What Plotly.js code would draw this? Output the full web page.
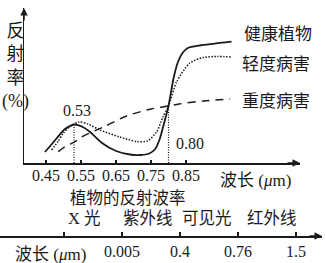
<!DOCTYPE html>
<html>
<head>
<meta charset="utf-8">
<script src="https://cdn.plot.ly/plotly-3.0.1.min.js"></script>
<style>html,body{margin:0;padding:0;background:#fff;}#chart{width:326px;height:263px;}</style>
</head>
<body>
<div id="chart"></div>
<script>
// ---- data (y is reflectance in arbitrary units) ----
const healthyX = [0.447, 0.467, 0.481, 0.504, 0.53, 0.555, 0.576, 0.61, 0.65, 0.69, 0.72, 0.745, 0.762, 0.775, 0.786, 0.80, 0.814, 0.827, 0.84, 0.855, 0.89, 0.98];
const healthyY = [11, 19, 25, 34, 38.5, 36, 31, 20, 12, 8.5, 8, 9.5, 14, 24, 38, 57, 84, 101, 110, 115, 117.5, 121.3];
const mildX = [0.466, 0.485, 0.50, 0.52, 0.545, 0.57, 0.604, 0.661, 0.709, 0.74, 0.766, 0.784, 0.80, 0.823, 0.861, 0.899, 0.94, 0.98];
const mildY = [13, 22, 30, 37, 41, 39, 33, 26, 21.5, 22, 31, 46, 57, 81, 100, 105.5, 106.5, 106];
const severeX = [0.485, 0.504, 0.533, 0.552, 0.62, 0.68, 0.75, 0.80, 0.83, 0.9, 0.976];
const severeY = [11.3, 16.3, 21.3, 26, 37, 47, 54, 57, 59, 62, 64];
const seriesNames = ['健康植物', '轻度病害', '重度病害'];
const markX = [0.53, 0.80];
const markLabels = ['0.53', '0.80'];
const xTicks = [0.45, 0.55, 0.65, 0.75, 0.85];
const xTickText = ['0.45', '0.55', '0.65', '0.75', '0.85'];
// electromagnetic spectrum strip
const bandNames = ['X 光', '紫外线', '可见光', '红外线'];
const bandTickVals = [0, 1, 2, 3, 4];
const bandTickText = ['', '0.005', '0.4', '0.76', '1.5'];

// ---- layout helpers ----
const W = 326, H = 263;
const px = v => v / W;
const py = v => 1 - v / H;
const CJK = 'Noto Sans CJK SC';
const SERIF = 'Liberation Serif, Noto Sans CJK SC';
const ink = '#1a1a1a';

function valAt(xs, ys, x) { return ys[xs.indexOf(x)]; }
const markY = [valAt(healthyX, healthyY, markX[0]), valAt(healthyX, healthyY, markX[1])];

const traces = [
  {x: healthyX, y: healthyY, mode: 'lines', line: {color: ink, width: 1.8, shape: 'spline', smoothing: 0.6}, name: seriesNames[0]},
  {x: mildX, y: mildY, mode: 'lines', line: {color: ink, width: 1.5, shape: 'spline', smoothing: 0.7, dash: '1.5px,1.5px'}, name: seriesNames[1]},
  {x: severeX, y: severeY, mode: 'lines', line: {color: ink, width: 1.5, shape: 'spline', smoothing: 0.8, dash: '8px,6px'}, name: seriesNames[2]},
  {x: [markX[0], markX[0]], y: [0, markY[0]], mode: 'lines', line: {color: ink, width: 1.2, dash: '1px,1.5px'}},
  {x: [markX[1], markX[1]], y: [0, markY[1]], mode: 'lines', line: {color: ink, width: 1.2, dash: '1px,1.5px'}},
  {x: bandTickVals, y: bandTickVals.map(() => 0), xaxis: 'x2', yaxis: 'y2', mode: 'markers', marker: {opacity: 0}, hoverinfo: 'skip'}
];

const xLo = 24, xHi = 300, tickPx0 = 46, pxPer = 350; // 0.1 per 35 px
const yTop = 8, yBot = 163;
const bandPx0 = 64, bandPer = 58, bandLineEnd = 322, bandY = 236;

const annotations = [];
// curve labels
[[seriesNames[0], 242, 33], [seriesNames[1], 240, 62], [seriesNames[2], 240, 100]].forEach(([t, x, y]) => {
  annotations.push({text: t, xref: 'paper', yref: 'paper', x: px(x), y: py(y), xanchor: 'left', yanchor: 'middle', showarrow: false, font: {family: CJK, size: 17, color: ink}});
});
// marks
annotations.push({text: markLabels[0], xref: 'x', yref: 'y', x: markX[0], y: markY[0] + 14.5, xshift: 3, xanchor: 'center', yanchor: 'middle', showarrow: false, font: {family: SERIF, size: 16, color: ink}});
annotations.push({text: markLabels[1], xref: 'x', yref: 'y', x: markX[1], y: 20, xshift: 5, xanchor: 'left', yanchor: 'middle', showarrow: false, font: {family: SERIF, size: 16, color: ink}});
// y title
annotations.push({text: '反<br>射<br>率<br>(%)', align: 'center', xref: 'paper', yref: 'paper', x: 0, y: py(19), xanchor: 'left', yanchor: 'top', showarrow: false, font: {family: SERIF, size: 18, color: ink}});
// x axis name
annotations.push({text: '波长 (<i>μ</i>m)', xref: 'paper', yref: 'paper', x: px(218), y: py(180), xanchor: 'left', yanchor: 'middle', showarrow: false, font: {family: SERIF, size: 17, color: ink}});
// chart caption
annotations.push({text: '植物的反射波率', xref: 'paper', yref: 'paper', x: px(128), y: py(197), xanchor: 'center', yanchor: 'middle', showarrow: false, font: {family: CJK, size: 16.5, color: ink}});
// band labels
const bandCenters = [84, 148, 207, 272];
bandNames.forEach((b, i) => {
  annotations.push({text: b, xref: 'paper', yref: 'paper', x: px(bandCenters[i]), y: py(218), xanchor: 'center', yanchor: 'middle', showarrow: false, font: {family: SERIF, size: 16.5, color: ink}});
});
annotations.push({text: '波长 (<i>μ</i>m)', xref: 'paper', yref: 'paper', x: px(13), y: py(254), xanchor: 'left', yanchor: 'middle', showarrow: false, font: {family: SERIF, size: 17, color: ink}});
// arrows
annotations.push({text: '', xref: 'paper', yref: 'paper', x: px(xLo), y: py(yTop), ax: 0, ay: 14, showarrow: true, arrowhead: 2, arrowsize: 1, arrowwidth: 1.5, arrowcolor: ink});
annotations.push({text: '', xref: 'paper', yref: 'paper', x: px(xHi), y: py(yBot), ax: -14, ay: 0, showarrow: true, arrowhead: 2, arrowsize: 1, arrowwidth: 1.5, arrowcolor: ink});
annotations.push({text: '', xref: 'paper', yref: 'paper', x: px(bandLineEnd), y: py(bandY), ax: -14, ay: 0, showarrow: true, arrowhead: 2, arrowsize: 1, arrowwidth: 1.5, arrowcolor: ink});

const layout = {
  width: W, height: H,
  margin: {l: 0, r: 0, t: 0, b: 0},
  paper_bgcolor: '#fff', plot_bgcolor: 'rgba(0,0,0,0)',
  showlegend: false,
  hovermode: false,
  xaxis: {
    domain: [px(xLo), 1 - (W - xHi) / W],
    range: [0.45 - (tickPx0 - xLo) / pxPer, 0.45 + (xHi - tickPx0) / pxPer],
    tickvals: xTicks, ticktext: xTickText,
    ticks: 'inside', ticklen: 3, tickwidth: 1.2, tickcolor: ink,
    ticklabelstandoff: -3,
    showline: true, linecolor: ink, linewidth: 1.5,
    showgrid: false, zeroline: false,
    tickfont: {family: SERIF, size: 16, color: ink},
    anchor: 'y'
  },
  yaxis: {
    domain: [1 - yBot / H, 1 - yTop / H],
    range: [0, yBot - yTop],
    showticklabels: false, ticks: '',
    showline: true, linecolor: ink, linewidth: 1.5,
    showgrid: false, zeroline: false,
    anchor: 'x'
  },
  xaxis2: {
    domain: [0, bandLineEnd / W],
    range: [-bandPx0 / bandPer, (bandLineEnd - bandPx0) / bandPer],
    tickvals: bandTickVals, ticktext: bandTickText,
    ticks: 'inside', ticklen: 4, tickwidth: 1.2, tickcolor: ink,
    showline: true, linecolor: ink, linewidth: 1.5,
    showgrid: false, zeroline: false,
    tickfont: {family: SERIF, size: 16, color: ink},
    anchor: 'y2'
  },
  yaxis2: {
    domain: [1 - bandY / H, 1 - bandY / H + 0.02],
    range: [0, 1],
    visible: false,
    anchor: 'x2'
  },
  annotations: annotations
};

Plotly.newPlot('chart', traces, layout, {staticPlot: true, displayModeBar: false});
</script>
</body>
</html>
